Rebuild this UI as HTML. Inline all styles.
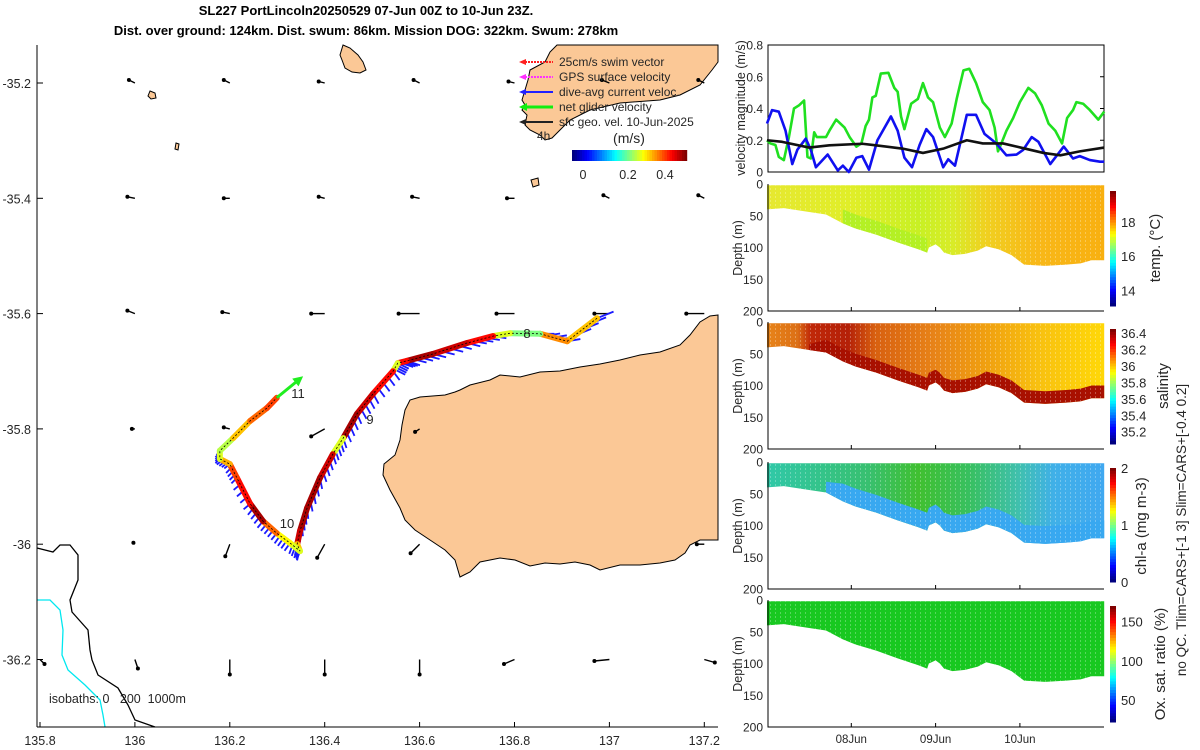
<!DOCTYPE html>
<html><head><meta charset="utf-8"><title>SL227 glider plot</title>
<style>
html,body{margin:0;padding:0;background:#fff;}
svg{display:block;font-family:"Liberation Sans",sans-serif;}
text{fill:#262626;}
</style></head>
<body>
<svg id="fig" width="1200" height="750" viewBox="0 0 1200 750" xmlns="http://www.w3.org/2000/svg">
<defs>
  <linearGradient id="gT" x1="0" x2="1" y1="0" y2="0">
    <stop offset="0" stop-color="#e6e830"/><stop offset="0.25" stop-color="#e0ee28"/><stop offset="0.45" stop-color="#c8f024"/><stop offset="0.55" stop-color="#d8ec28"/><stop offset="0.65" stop-color="#f0d020"/><stop offset="0.8" stop-color="#f8b818"/><stop offset="1" stop-color="#f8b010"/>
  </linearGradient>
  <linearGradient id="gS" x1="0" x2="1" y1="0" y2="0">
    <stop offset="0" stop-color="#e88418"/><stop offset="0.09" stop-color="#dc7016"/><stop offset="0.13" stop-color="#c02808"/><stop offset="0.24" stop-color="#b42008"/><stop offset="0.32" stop-color="#d86010"/><stop offset="0.5" stop-color="#e88418"/><stop offset="0.65" stop-color="#f0a010"/><stop offset="0.8" stop-color="#f8c010"/><stop offset="1" stop-color="#ffd808"/>
  </linearGradient>
  <linearGradient id="gC" x1="0" x2="1" y1="0" y2="0">
    <stop offset="0" stop-color="#30c8a8"/><stop offset="0.3" stop-color="#38c070"/><stop offset="0.45" stop-color="#40c030"/><stop offset="0.6" stop-color="#38c060"/><stop offset="0.75" stop-color="#40c0b0"/><stop offset="0.85" stop-color="#40b0e8"/><stop offset="1" stop-color="#40a8f0"/>
  </linearGradient>
  <pattern id="stripes" width="5" height="4" patternUnits="userSpaceOnUse">
    <rect x="0" y="0" width="1" height="2" fill="#fff" fill-opacity="0.55"/>
  </pattern>
</defs>

<text x="366" y="15" text-anchor="middle" font-size="13" font-weight="bold" style="fill:#000">SL227 PortLincoln20250529 07-Jun 00Z to 10-Jun 23Z.</text>
<text x="366" y="35" text-anchor="middle" font-size="13" font-weight="bold" style="fill:#000">Dist. over ground: 124km. Dist. swum: 86km. Mission DOG: 322km. Swum: 278km</text>

<g id="map">
  <polygon fill="#fbc896" stroke="#000" stroke-width="1"
    points="718,315 710,316 700,322 690,335 680,345 660,352 640,355 620,360 600,364 580,367 560,371 540,372 520,377 500,375 490,380 470,385 460,390 455,392 445,395 420,397 410,400 405,410 402,425 400,440 395,455 384,464 383,475 390,490 400,508 405,520 415,530 430,540 445,550 455,560 460,577 470,572 480,562 500,558 515,560 530,566 545,563 560,564 575,562 590,565 600,570 620,565 640,565 660,563 675,560 685,553 690,545 700,540 718,540"/>
  <polygon fill="#fbc896" stroke="#000" stroke-width="1"
    points="557,45 550,52 545,62 530,70 528,80 525,90 522,100 525,105 522,110 527,115 525,125 530,130 540,135 545,140 552,138 555,135 560,130 570,120 590,110 620,103 660,100 680,95 700,85 712,70 718,62 718,45"/>
  <polygon fill="#fbc896" stroke="#000" stroke-width="1"
    points="343,45 350,48 358,55 363,62 366,70 360,73 352,72 345,68 342,60 340,55"/>
  <polygon fill="#fbc896" stroke="#000" stroke-width="1" points="150,91 155,93 156,98 151,99 148,96"/>
  <polygon fill="#fbc896" stroke="#000" stroke-width="1" points="176,143 179,144 178,150 175,149"/>
  <polygon fill="#fbc896" stroke="#000" stroke-width="1" points="531,180 538,178 539,185 533,187"/>
  <polyline fill="none" stroke="#000" stroke-width="1.3"
    points="37,548 53,552 60,545 70,545 78,555 78,580 70,600 72,612 88,630 90,650 92,660 98,675 118,688 128,705 135,720 155,727"/>
  <polyline fill="none" stroke="#00e8f0" stroke-width="1.3"
    points="37,600 50,600 60,610 63,630 62,655 68,670 85,685 100,700 103,715 105,727"/>
  <line x1="37" y1="45" x2="37" y2="727" stroke="#000" stroke-width="1"/>
  <line x1="37" y1="727" x2="718" y2="727" stroke="#000" stroke-width="1"/>
  <text x="49" y="703" font-size="12.5" style="white-space:pre">isobaths: 0   200  1000m</text>
</g>
<g id="mapDyn"></g>

<g font-size="12">
  <line x1="522" y1="62" x2="553" y2="62" stroke="#ff2020" stroke-width="2" stroke-dasharray="2,1"/><polygon points="519,62 526,59 526,65" fill="#ff2020"/>
  <text x="559" y="66">25cm/s swim vector</text>
  <line x1="522" y1="77" x2="553" y2="77" stroke="#ff30ff" stroke-width="2" stroke-dasharray="2,1"/><polygon points="519,77 526,74 526,80" fill="#ff30ff"/>
  <text x="559" y="81">GPS surface velocity</text>
  <line x1="522" y1="92" x2="553" y2="92" stroke="#2020ff" stroke-width="2"/><polygon points="519,92 526,89 526,95" fill="#2020ff"/>
  <text x="559" y="96">dive-avg current veloc.</text>
  <line x1="522" y1="107" x2="553" y2="107" stroke="#10ee10" stroke-width="3"/><polygon points="519,107 527,103 527,111" fill="#10ee10"/>
  <text x="559" y="111">net glider velocity</text>
  <line x1="522" y1="122" x2="553" y2="122" stroke="#222" stroke-width="2"/><polygon points="519,122 526,119 526,125" fill="#222"/>
  <text x="559" y="126">sfc geo. vel. 10-Jun-2025</text>
  <text x="537" y="140" font-size="12">4h</text>
  <text x="629" y="143" font-size="14" text-anchor="middle">(m/s)</text>
</g>
<g id="speedCbar"></g>
<g id="velPanel"></g>
<g id="secPanels"></g>
</svg>

<script>
// ---------- data ----------
const velBlueDay=[0,0.06,0.14,0.22,0.30,0.36,0.46,0.52,0.58,0.72,0.84,0.90,0.97,1.06,1.13,1.21,1.31,1.47,1.55,1.63,1.72,1.81,1.89,1.97,2.09,2.15,2.23,2.37,2.48,2.58,2.72,2.84,2.96,3.04,3.14,3.22,3.36,3.52,3.63,3.71,3.83,3.95,4.0];
const velBlue=[0.305,0.39,0.38,0.26,0.05,0.14,0.21,0.14,0.03,0.11,0.01,0.04,0.0,0.09,0.10,0.015,0.20,0.35,0.26,0.09,0.03,0.17,0.27,0.22,0.03,0.08,0.04,0.36,0.36,0.24,0.18,0.105,0.11,0.14,0.22,0.19,0.05,0.16,0.085,0.10,0.075,0.065,0.065];
const velGreenDay=[0,0.04,0.10,0.14,0.20,0.26,0.32,0.38,0.44,0.48,0.52,0.56,0.59,0.70,0.74,0.82,0.92,0.98,1.06,1.12,1.17,1.21,1.25,1.29,1.35,1.44,1.51,1.55,1.59,1.63,1.71,1.79,1.85,1.91,1.97,2.05,2.11,2.19,2.25,2.33,2.40,2.48,2.56,2.64,2.70,2.74,2.78,2.84,2.92,3.00,3.10,3.18,3.26,3.34,3.42,3.50,3.56,3.63,3.67,3.75,3.83,3.93,4.0];
const velGreen=[0.20,0.18,0.17,0.095,0.075,0.22,0.40,0.42,0.45,0.095,0.085,0.25,0.22,0.22,0.26,0.33,0.28,0.22,0.16,0.18,0.29,0.33,0.47,0.48,0.62,0.625,0.53,0.505,0.35,0.27,0.43,0.46,0.56,0.47,0.44,0.28,0.22,0.305,0.46,0.64,0.65,0.56,0.44,0.39,0.28,0.13,0.18,0.26,0.34,0.44,0.53,0.495,0.42,0.305,0.26,0.18,0.34,0.39,0.44,0.43,0.39,0.33,0.38];
const velBlackDay=[0,0.18,0.50,0.74,1.13,1.29,1.61,1.85,2.09,2.37,2.56,2.80,3.04,3.28,3.48,3.71,4.0];
const velBlack=[0.20,0.19,0.154,0.168,0.178,0.168,0.147,0.12,0.147,0.20,0.18,0.18,0.15,0.12,0.105,0.13,0.154];
const velTicks=[0,0.2,0.4,0.6,0.8];

const bottomDay=[0,0.2,0.5,0.7,0.9,1.05,1.3,1.55,1.8,1.9,1.92,2.0,2.05,2.1,2.2,2.35,2.5,2.6,2.75,2.9,2.98,3.05,3.3,3.55,3.72,3.85,4.0];
const bottomDepth=[40,38,44,48,62,70,80,92,103,108,100,95,100,108,112,110,105,98,103,112,120,127,129,127,125,120,120];
const depthTicks=[0,50,100,150,200];
const dateTicks=["08Jun","09Jun","10Jun"];
const dateTickDay=[1,2,3];

const trackLon=[136.974,136.911,136.854,136.791,136.755,136.700,136.628,136.573,136.554,136.544,136.502,136.468,136.439,136.417,136.390,136.363,136.348,136.342,136.348,136.327,136.299,136.270,136.243,136.215,136.200,136.179,136.179,136.207,136.243,136.278,136.299];
const trackLat=[-35.608,-35.648,-35.635,-35.634,-35.639,-35.651,-35.670,-35.682,-35.686,-35.700,-35.739,-35.774,-35.816,-35.844,-35.885,-35.937,-35.977,-36.000,-36.012,-35.998,-35.981,-35.960,-35.930,-35.885,-35.861,-35.852,-35.838,-35.816,-35.786,-35.764,-35.746];
const trackSpeed=[0.35,0.38,0.25,0.3,0.45,0.48,0.5,0.45,0.3,0.45,0.48,0.5,0.3,0.48,0.5,0.5,0.48,0.35,0.3,0.32,0.4,0.5,0.45,0.42,0.36,0.3,0.28,0.35,0.4,0.42,0.38];
const curU=[0.15,0.12,0.13,0.13,0.12,0.12,0.12,0.12,0.1,0.06,0.05,0.04,0.03,0.03,0.02,0.01,0.0,-0.02,-0.03,-0.05,-0.05,-0.05,-0.06,-0.05,-0.05,-0.04,-0.03,-0.02,-0.02,-0.02,-0.02];
const curV=[0.06,0.02,0.0,0.01,-0.02,-0.03,-0.03,-0.04,-0.05,-0.08,-0.09,-0.09,-0.09,-0.09,-0.1,-0.1,-0.1,-0.1,-0.08,-0.07,-0.06,-0.06,-0.05,-0.05,-0.04,-0.04,-0.04,-0.04,-0.04,-0.04,-0.04];
const netEndLon=136.348, netEndLat=-35.713;

const geoLon=[135.8,136.0,136.2,136.4,136.6,136.8,137.0,137.2];
const geoLat=[-35.2,-35.4,-35.6,-35.8,-36.0,-36.2];
const geoU=[
 [0,-0.04,-0.04,-0.04,-0.04,-0.04,-0.05,-0.04],
 [0,-0.05,-0.04,-0.04,-0.05,-0.05,-0.04,-0.04],
 [0,-0.05,-0.05,-0.09,-0.14,-0.12,-0.1,-0.12],
 [0,-0.02,-0.04,-0.09,-0.03,0,0,0],
 [0,-0.01,-0.03,-0.05,-0.06,0,0,-0.05],
 [0.03,0.02,0,0,0,-0.07,-0.1,0.07]];
const geoV=[
 [0,0.02,0.02,0.01,0.02,0.01,0.02,0.02],
 [0,0.01,0,0.01,0.01,0,0.02,0.02],
 [0,0.02,0.01,0,0,0,0,0],
 [0,0,0.01,-0.05,-0.02,0,0,0],
 [0,0.01,-0.08,-0.09,-0.06,0,0,0],
 [-0.03,-0.06,-0.1,-0.1,-0.1,-0.03,-0.01,-0.02]];
const lonTicks=[135.8,136,136.2,136.4,136.6,136.8,137,137.2];
const latTicks=[-35.2,-35.4,-35.6,-35.8,-36,-36.2];

// ---------- helpers ----------
const NS="http://www.w3.org/2000/svg";
function mk(tag,parent){const e=document.createElementNS(NS,tag);parent.appendChild(e);return e;}
function jet(t){t=Math.max(0,Math.min(1,t));const c=v=>Math.round(255*Math.max(0,Math.min(1,v)));
  return "rgb("+c(1.5-Math.abs(4*t-3))+","+c(1.5-Math.abs(4*t-2))+","+c(1.5-Math.abs(4*t-1))+")";}
const mapX=lon=>40+(lon-135.8)*474.5;
const mapY=lat=>83+(-35.2-lat)*576.5;
const dayX=d=>767+d*84.3;
const velY=v=>172-v/0.8*127;

// ---------- map dynamic ----------
const gm=document.getElementById('mapDyn');
const geoScale=150;
const curScale=110;
for(let i=0;i<geoLat.length;i++){for(let j=0;j<geoLon.length;j++){
  const u=geoU[i][j],v=geoV[i][j]; if(u===0&&v===0) continue;
  const x0=mapX(geoLon[j]),y0=mapY(geoLat[i]),x1=x0+u*geoScale,y1=y0-v*geoScale;
  const l=mk('line',gm);
  
  
  l.setAttribute('x1',x0);l.setAttribute('y1',y0);l.setAttribute('x2',x1);l.setAttribute('y2',y1);
  l.setAttribute('stroke','#000');l.setAttribute('stroke-width','1.4');
  const h=mk('circle',gm);
  
  
  h.setAttribute('cx',x1);h.setAttribute('cy',y1);h.setAttribute('r','2');h.setAttribute('fill','#000');
}}
for(let i=0;i<trackLon.length;i++){
  const last=(i===trackLon.length-1);
  const n=last?1:4;
  for(let k=0;k<n;k++){
    const f=k/n;
    const lon=last?trackLon[i]:trackLon[i]+(trackLon[i+1]-trackLon[i])*f;
    const lat=last?trackLat[i]:trackLat[i]+(trackLat[i+1]-trackLat[i])*f;
    const x0=mapX(lon),y0=mapY(lat);
    const b=mk('line',gm);
    
    
    b.setAttribute('x1',x0);b.setAttribute('y1',y0);
    b.setAttribute('x2',x0+curU[i]*curScale);b.setAttribute('y2',y0-curV[i]*curScale);
    b.setAttribute('stroke','#1a1aff');b.setAttribute('stroke-width','1.8');
  }
}
for(let i=0;i<trackLon.length-1;i++){
  const s=mk('line',gm);
  
  
  s.setAttribute('x1',mapX(trackLon[i]));s.setAttribute('y1',mapY(trackLat[i]));
  s.setAttribute('x2',mapX(trackLon[i+1]));s.setAttribute('y2',mapY(trackLat[i+1]));
  s.setAttribute('stroke',jet(trackSpeed[i]/0.5*0.92+0.04));s.setAttribute('stroke-width','6');s.setAttribute('stroke-linecap','round');
}
const tl=mk('polyline',gm);


tl.setAttribute('points',trackLon.map((v,i)=>mapX(v)+','+mapY(trackLat[i])).join(' '));
tl.setAttribute('fill','none');tl.setAttribute('stroke','#000');tl.setAttribute('stroke-width','0.8');tl.setAttribute('stroke-dasharray','2,2');
{const L=trackLon.length-1,x0=mapX(trackLon[L]),y0=mapY(trackLat[L]),x1=mapX(netEndLon),y1=mapY(netEndLat);
 const a=mk('line',gm);
 
 
 a.setAttribute('x1',x0);a.setAttribute('y1',y0);a.setAttribute('x2',x1);a.setAttribute('y2',y1);a.setAttribute('stroke','#20ee20');a.setAttribute('stroke-width','3');
 const ang=Math.atan2(y1-y0,x1-x0),hx=x1+Math.cos(ang)*4,hy=y1+Math.sin(ang)*4;
 const p=mk('polygon',gm);
 
 
 p.setAttribute('points',hx+','+hy+' '+(x1-Math.cos(ang)*6+Math.sin(ang)*5)+','+(y1-Math.sin(ang)*6-Math.cos(ang)*5)+' '+(x1-Math.cos(ang)*6-Math.sin(ang)*5)+','+(y1-Math.sin(ang)*6+Math.cos(ang)*5));
 p.setAttribute('fill','#20ee20');}
[["8",527,338],["9",370,424],["10",287,528],["11",298,398]].forEach(d=>{
  const t=mk('text',gm);
  
  
  t.setAttribute('x',d[1]);t.setAttribute('y',d[2]);t.setAttribute('font-size','13');t.setAttribute('text-anchor','middle');t.textContent=d[0];
});
lonTicks.forEach(v=>{const t=mk('text',gm);
  
  
  t.setAttribute('x',mapX(v));t.setAttribute('y',745);t.setAttribute('font-size','12.5');t.setAttribute('text-anchor','middle');t.textContent=String(v);
  const k=mk('line',gm);
  
  
  k.setAttribute('x1',mapX(v));k.setAttribute('x2',mapX(v));k.setAttribute('y1',727);k.setAttribute('y2',722);k.setAttribute('stroke','#000');});
latTicks.forEach(v=>{const t=mk('text',gm);
  
  
  t.setAttribute('x',31);t.setAttribute('y',mapY(v)+5);t.setAttribute('font-size','12.5');t.setAttribute('text-anchor','end');t.textContent=String(v);
  const k=mk('line',gm);
  
  
  k.setAttribute('x1',37);k.setAttribute('x2',43);k.setAttribute('y1',mapY(v));k.setAttribute('y2',mapY(v));k.setAttribute('stroke','#000');});

const gc=document.getElementById('speedCbar');
for(let i=0;i<46;i++){const r=mk('rect',gc);
  
  
  r.setAttribute('x',572+i*2.5);r.setAttribute('y',150);r.setAttribute('width',2.7);r.setAttribute('height',11);r.setAttribute('fill',jet(i/45));}
[["0",583],["0.2",628],["0.4",665]].forEach(d=>{const t=mk('text',gc);
  
  
  t.setAttribute('x',d[1]);t.setAttribute('y',179);t.setAttribute('font-size','12.5');t.setAttribute('text-anchor','middle');t.textContent=d[0];});

// ---------- velocity panel ----------
const gv=document.getElementById('velPanel');
{const r=mk('rect',gv);
 
 
 r.setAttribute('x',768);r.setAttribute('y',45);r.setAttribute('width',336);r.setAttribute('height',127);r.setAttribute('fill','none');r.setAttribute('stroke','#000');}
velTicks.forEach(v=>{const t=mk('text',gv);
  
  
  t.setAttribute('x',763);t.setAttribute('y',velY(v)+4.5);t.setAttribute('font-size','12');t.setAttribute('text-anchor','end');t.textContent=v===0?"0":v.toFixed(1);
  const k=mk('line',gv);
  
  
  k.setAttribute('x1',1100);k.setAttribute('x2',1104);k.setAttribute('y1',velY(v));k.setAttribute('y2',velY(v));k.setAttribute('stroke','#000');});
function vline(days,vals,col,name){const p=mk('polyline',gv);
  
  
  p.setAttribute('points',days.map((d,i)=>dayX(d)+','+velY(vals[i])).join(' '));
  p.setAttribute('fill','none');p.setAttribute('stroke',col);p.setAttribute('stroke-width','2.6');p.setAttribute('stroke-linejoin','round');}
vline(velGreenDay,velGreen,'#20e020','net-glider-speed-line');
vline(velBlueDay,velBlue,'#1010f0','current-speed-line');
vline(velBlackDay,velBlack,'#111','geostrophic-speed-line');
{const t=mk('text',gv);
 
 
 t.setAttribute('transform','translate(745,108) rotate(-90)');t.setAttribute('font-size','12.5');t.setAttribute('text-anchor','middle');t.textContent='velocity magnitude (m/s)';}

// ---------- section panels ----------
const gs=document.getElementById('secPanels');
const panels=[
 {top:184,fill:'url(#gT)',name:'temperature',label:'temp. (°C)',lx:1160,band:null,cb:[191,306],cbMin:13.1,cbMax:19.8,ticks:[14,16,18]},
 {top:322,fill:'url(#gS)',name:'salinity',label:'salinity',lx:1168,band:['#a81000',20,0.45],cb:[329,444],cbMin:35.05,cbMax:36.45,ticks:[35.2,35.4,35.6,35.8,36,36.2,36.4]},
 {top:462,fill:'url(#gC)',name:'chlorophyll',label:'chl-a (mg m-3)',lx:1146,band:['#38a8f0',28,0.6],cb:[468,582],cbMin:0,cbMax:2,ticks:[0,1,2]},
 {top:600,fill:'#18c820',name:'oxygen',label:'Ox. sat. ratio (%)',lx:1165,band:null,cb:[606,722],cbMin:22,cbMax:170,ticks:[50,100,150]}
];
panels.forEach((P,pi)=>{
  const dY=d=>P.top+d/200*127;
  const g=mk('g',gs);
  
  
  const pts=[dayX(0)+','+dY(2)];
  bottomDay.forEach((d,i)=>pts.unshift(dayX(d)+','+dY(bottomDepth[i])));
  pts.push(dayX(4)+','+dY(2));
  const body=mk('polygon',g);
  
  
  body.setAttribute('points',pts.join(' '));body.setAttribute('fill',P.fill);
  if(P.band){const bp=[];
    bottomDay.forEach((d,i)=>{if(d>=P.band[2]) bp.push(dayX(d)+','+dY(bottomDepth[i]));});
    for(let i=bottomDay.length-1;i>=0;i--){if(bottomDay[i]>=P.band[2]) bp.push(dayX(bottomDay[i])+','+dY(Math.max(0,bottomDepth[i]-P.band[1]*Math.min(1,(bottomDay[i]-P.band[2])*3+0.3))));}
    const b=mk('polygon',g);
    
    
    b.setAttribute('points',bp.join(' '));b.setAttribute('fill',P.band[0]);}
  if(pi===0){const bp=[];
    bottomDay.forEach((d,i)=>{if(d>=0.9&&d<=1.9) bp.push(dayX(d)+','+dY(bottomDepth[i]));});
    for(let i=bottomDay.length-1;i>=0;i--){const d=bottomDay[i];if(d>=0.9&&d<=1.9) bp.push(dayX(d)+','+dY(bottomDepth[i]-22));}
    const b=mk('polygon',g);
    
    
    b.setAttribute('points',bp.join(' '));b.setAttribute('fill','#b4f024');}
  const st=mk('polygon',g);
  
  
  st.setAttribute('points',pts.join(' '));st.setAttribute('fill','url(#stripes)');st.setAttribute('opacity','0.5');
  const ax=mk('polyline',g);
  
  
  ax.setAttribute('points','768,'+P.top+' 768,'+(P.top+127)+' 1104,'+(P.top+127));ax.setAttribute('fill','none');ax.setAttribute('stroke','#000');
  depthTicks.forEach(v=>{const t=mk('text',g);
    
    
    t.setAttribute('x',763);t.setAttribute('y',dY(v)+4.5);t.setAttribute('font-size','12');t.setAttribute('text-anchor','end');t.textContent=String(v);});
  {const t=mk('text',g);
   
   
   t.setAttribute('transform','translate(742,'+(P.top+64)+') rotate(-90)');t.setAttribute('font-size','12.5');t.setAttribute('text-anchor','middle');t.textContent='Depth (m)';}
  dateTickDay.forEach(d=>{const k=mk('line',g);
    
    
    k.setAttribute('x1',dayX(d));k.setAttribute('x2',dayX(d));k.setAttribute('y1',P.top+127);k.setAttribute('y2',P.top+123);k.setAttribute('stroke','#000');});
  const n=40,h=(P.cb[1]-P.cb[0])/n;
  for(let i=0;i<n;i++){const r=mk('rect',g);
    
    
    r.setAttribute('x',1110);r.setAttribute('y',P.cb[0]+i*h);r.setAttribute('width',6);r.setAttribute('height',h+0.5);r.setAttribute('fill',jet(1-i/(n-1)));}
  P.ticks.forEach(v=>{const y=P.cb[1]-(v-P.cbMin)/(P.cbMax-P.cbMin)*(P.cb[1]-P.cb[0]);
    const t=mk('text',g);
    
    
    t.setAttribute('x',1121);t.setAttribute('y',y+5);t.setAttribute('font-size','13');t.textContent=String(v);});
  const lt=mk('text',g);
  
  
  lt.setAttribute('transform','translate('+P.lx+','+(P.top+64)+') rotate(-90)');lt.setAttribute('font-size','15');lt.setAttribute('text-anchor','middle');lt.textContent=P.label;
});
dateTicks.forEach((s,i)=>{const t=mk('text',gs);
  
  
  t.setAttribute('x',dayX(dateTickDay[i]));t.setAttribute('y',743);t.setAttribute('font-size','11.5');t.setAttribute('text-anchor','middle');t.textContent=s;});
{const t=mk('text',gs);
 
 
 t.setAttribute('transform','translate(1186,530) rotate(-90)');t.setAttribute('font-size','13.5');t.setAttribute('text-anchor','middle');t.textContent='no QC. Tlim=CARS+[-1 3] Slim=CARS+[-0.4 0.2]';}
</script>
</body></html>
